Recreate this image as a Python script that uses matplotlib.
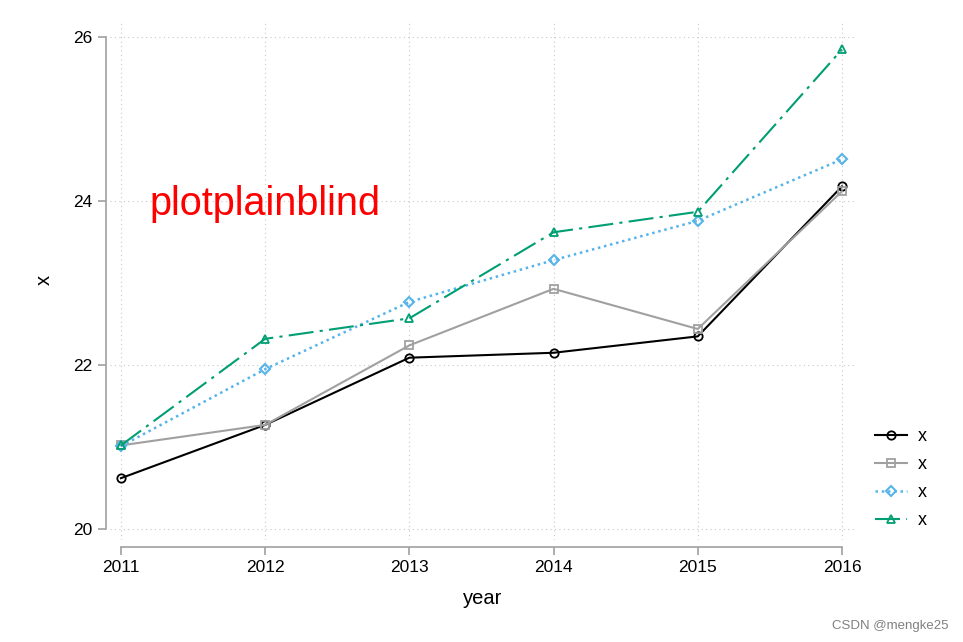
import matplotlib.pyplot as plt

plt.rcParams['font.family'] = ['Liberation Sans', 'DejaVu Sans']

years = [2011, 2012, 2013, 2014, 2015, 2016]
s1 = [20.62, 21.27, 22.09, 22.15, 22.35, 24.18]
s2 = [21.02, 21.27, 22.24, 22.93, 22.44, 24.12]
s3 = [21.01, 21.95, 22.77, 23.28, 23.76, 24.51]
s4 = [21.02, 22.32, 22.57, 23.62, 23.87, 25.85]
yticks = [20, 22, 24, 26]

fig = plt.figure(figsize=(9.63, 6.42), dpi=100)
ax = fig.add_axes([0.1142, 0.1589, 0.7736, 0.81])

ax.plot(years, s1, color='black', lw=1.5, marker='o', ms=6, mfc='none', mew=1.3, label='x')
ax.plot(years, s2, color='#a0a0a0', lw=1.5, marker='s', ms=6, mfc='none', mew=1.3, label='x')
ax.plot(years, s3, color='#56b4e9', lw=1.8, ls=(0, (1, 1.5)), marker='D', ms=5.5, mfc='none', mew=1.5, label='x')
ax.plot(years, s4, color='#009e73', lw=1.5, ls=(0, (12, 3, 1.5, 3)), marker='^', ms=6, mfc='none', mew=1.3, label='x')

ax.text(2011.2, 23.96, 'plotplainblind', color='red', fontsize=28.5, va='center')

ax.set_xlim(2010.924, 2016.09)
ax.set_ylim(19.866, 26.21)
ax.set_xticks(years)
ax.set_yticks(yticks)
ax.grid(True, color='#c8c8c8', ls=(0, (1, 3)), lw=0.8)

for side in ['top', 'right']:
    ax.spines[side].set_visible(False)
ax.spines['left'].set_position(('outward', 3))
ax.spines['left'].set_bounds(20, 26)
ax.spines['bottom'].set_position(('outward', 5))
ax.spines['bottom'].set_bounds(2011, 2016)
for side in ['left', 'bottom']:
    ax.spines[side].set_color('#a0a0a0')
    ax.spines[side].set_linewidth(1.2)
ax.tick_params(colors='#a0a0a0', labelcolor='black', labelsize=12.5, length=6, width=1.2)

ax.set_xlabel('year', fontsize=14.5, labelpad=10)
ax.set_ylabel('x', fontsize=14.5, labelpad=14)

ax.legend(loc='center left', bbox_to_anchor=(1.005, 0.118), frameon=False, fontsize=13,
          handlelength=1.8, handletextpad=0.6, labelspacing=0.62)

fig.text(0.985, 0.015, 'CSDN @mengke25', color='#808080', fontsize=9.5, ha='right', va='bottom')

plt.savefig('out.png')
plt.close()
